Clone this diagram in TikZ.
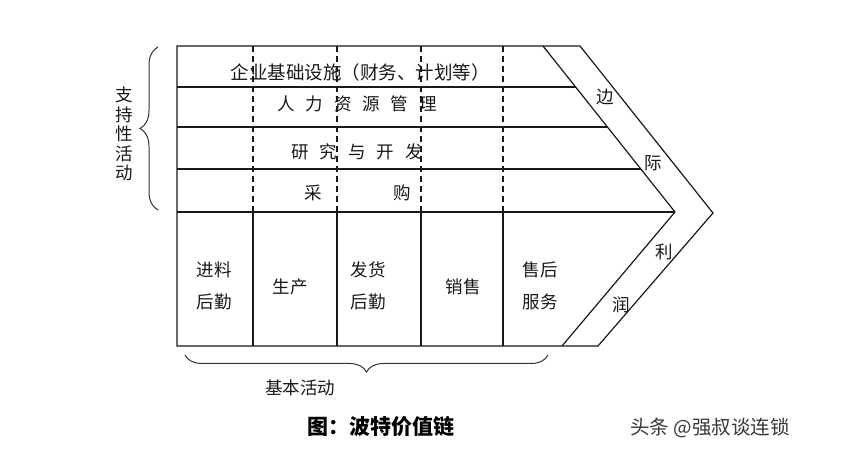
\documentclass[tikz,border=0pt]{standalone}
\usepackage{fontspec}
\setmainfont{Noto Sans CJK SC}
\usetikzlibrary{decorations.pathreplacing}
\begin{document}
\begin{tikzpicture}[x=1pt,y=-1pt,
  frame/.style={draw=black!90, line width=1.2pt},
  dashv/.style={draw=black!90, line width=1.2pt, dash pattern=on 6pt off 4pt},
  lbl/.style={font=\fontsize{17.5}{20}\selectfont, inner sep=0pt, text=black!90},
  twoline/.style={lbl, align=center, font=\fontsize{17.5}{32}\selectfont},
  sidelbl/.style={font=\fontsize{17.5}{20}\selectfont, inner sep=0pt, text=black!90},
  bracestyle/.style={draw=black!80, line width=1pt, decorate},
]
\useasboundingbox (0,0) rectangle (844,462);
\fill[white] (0,0) rectangle (844,462);

% coordinates of the outline
\coordinate (tl) at (177,46);
\coordinate (tr) at (580,46);
\coordinate (tip) at (713,213);
\coordinate (br) at (598,346);
\coordinate (bl) at (177,346);
\coordinate (itop) at (543,46);
\coordinate (itip) at (675,212);
\coordinate (ibot) at (562,346);

\draw[frame] (tl) -- (tr) -- (tip) -- (br) -- (bl) -- cycle;
\draw[frame] (itop) -- (itip) -- (ibot);

% support rows
\draw[frame] (177,87) -- (575.6,87);
\draw[frame] (177,127) -- (607.4,127);
\draw[frame] (177,169) -- (640.8,169);
\draw[frame] (177,212) -- (itip);

% column separators
\foreach \x in {253,337,421,503}{
  \draw[dashv] (\x,46) -- (\x,212);
  \draw[frame] (\x,212) -- (\x,346);
}

% support activity labels
\node[lbl, font=\fontsize{18.5}{20}\selectfont] (infra) at (360,72) {企业基础设施（财务、计划等）};
\node[lbl] (hr) at (357,104) {人\hspace{11pt}力\hspace{11pt}资\hspace{11pt}源\hspace{11pt}管\hspace{11pt}理};
\node[lbl] (rd) at (357,152) {研\hspace{11pt}究\hspace{11pt}与\hspace{11pt}开\hspace{11pt}发};
\node[lbl] (buy1) at (313,193) {采};
\node[lbl] (buy2) at (402,193) {购};

% primary activity labels
\node[twoline] (inlog) at (214,286) {进料\\后勤};
\node[lbl] (prod) at (290,287) {生产};
\node[twoline] (outlog) at (368,286) {发货\\后勤};
\node[lbl] (sales) at (463,287) {销售};
\node[twoline] (service) at (540,286) {售后\\服务};

% margin labels
\node[sidelbl] (m1) at (605,97) {边};
\node[sidelbl] (m2) at (653,163) {际};
\node[sidelbl] (m3) at (664,252) {利};
\node[sidelbl] (m4) at (621,305) {润};

% braces
\draw[bracestyle, decoration={brace, amplitude=18pt}] (158,210) -- (158,47);
\node[lbl, align=center, font=\fontsize{17.5}{19.5}\selectfont] (support) at (124,134) {支\\持\\性\\活\\动};
\draw[bracestyle, decoration={brace, amplitude=17pt}] (548,355) -- (185,355);
\node[lbl] (primary) at (300,388) {基本活动};

% caption and watermark
\node[inner sep=0pt, font=\fontsize{21}{24}\selectfont\bfseries, text=black] (cap) at (381,427) {图：波特价值链};
\node[inner sep=0pt, font=\fontsize{19.5}{22}\selectfont, text=black!78] (wm) at (710,428) {头条 @强叔谈连锁};
\end{tikzpicture}
\end{document}
